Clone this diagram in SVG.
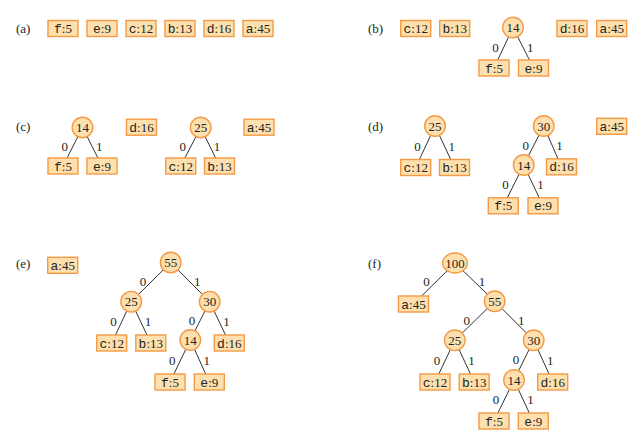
<svg xmlns="http://www.w3.org/2000/svg" width="640" height="443" viewBox="0 0 640 443">
<style>
.bx{fill:#FEE0AE;stroke:#F49A45;stroke-width:1.4}
.cn{fill:#FEE0AE;stroke:#F49A45;stroke-width:1.4}
.t{font-family:"Liberation Serif",serif;font-size:13px;fill:#231F20;text-anchor:middle}
.m{font-family:"Liberation Mono",monospace}
.pl{font-family:"Liberation Serif",serif;font-size:13px;fill:#231F20}
.e line{stroke:#333;stroke-width:1}
.el{font-family:"Liberation Serif",serif;font-size:13px;fill:#231F20;text-anchor:middle}
</style>
<rect width="640" height="443" fill="#fff"/>
<g id="panel-labels">
<text class="pl" x="16" y="33">(a)</text>
<text class="pl" x="368" y="33">(b)</text>
<text class="pl" x="16" y="131">(c)</text>
<text class="pl" x="368" y="131">(d)</text>
<text class="pl" x="16" y="268">(e)</text>
<text class="pl" x="368" y="268">(f)</text>
</g>
<g id="connectors" class="e">
<line x1="513" y1="27.5" x2="494" y2="68"/><line x1="513" y1="27.5" x2="533.5" y2="68"/>
<line x1="82.5" y1="127.5" x2="63" y2="166"/><line x1="82.5" y1="127.5" x2="102" y2="166"/>
<line x1="200.7" y1="127.5" x2="180.7" y2="166"/><line x1="200.7" y1="127.5" x2="219.5" y2="166"/>
<line x1="435" y1="126" x2="415.7" y2="167.5"/><line x1="435" y1="126" x2="454.5" y2="167.5"/>
<line x1="543.7" y1="126" x2="523.7" y2="165"/><line x1="543.7" y1="126" x2="561.5" y2="166.8"/>
<line x1="523.7" y1="165" x2="503.3" y2="205.8"/><line x1="523.7" y1="165" x2="543" y2="205.8"/>
<line x1="170.7" y1="262.5" x2="131.2" y2="301.7"/><line x1="170.7" y1="262.5" x2="209.7" y2="301.7"/>
<line x1="131.2" y1="301.7" x2="111.7" y2="343"/><line x1="131.2" y1="301.7" x2="150.8" y2="343"/>
<line x1="209.7" y1="301.7" x2="190.3" y2="340"/><line x1="209.7" y1="301.7" x2="229.3" y2="343"/>
<line x1="190.3" y1="340" x2="170" y2="382"/><line x1="190.3" y1="340" x2="209.3" y2="382"/>
<line x1="455" y1="263" x2="413.5" y2="304"/><line x1="455" y1="263" x2="494.7" y2="301.3"/>
<line x1="494.7" y1="301.3" x2="454.8" y2="340.3"/><line x1="494.7" y1="301.3" x2="533.7" y2="340.3"/>
<line x1="454.8" y1="340.3" x2="435" y2="382"/><line x1="454.8" y1="340.3" x2="474.2" y2="382"/>
<line x1="533.7" y1="340.3" x2="514" y2="380"/><line x1="533.7" y1="340.3" x2="552.7" y2="382"/>
<line x1="514" y1="380" x2="494" y2="421"/><line x1="514" y1="380" x2="533" y2="421"/>
<text class="el" x="495.5" y="51.5">0</text><text class="el" x="530.3" y="51.5">1</text>
<text class="el" x="64.8" y="150.5">0</text><text class="el" x="99.3" y="150.5">1</text>
<text class="el" x="182.7" y="150.5">0</text><text class="el" x="217.1" y="150.5">1</text>
<text class="el" x="417.4" y="150.5">0</text><text class="el" x="451.8" y="150.5">1</text>
<text class="el" x="525.7" y="149.5">0</text><text class="el" x="559.6" y="150">1</text>
<text class="el" x="505.5" y="189">0</text><text class="el" x="540.4" y="189">1</text>
<text class="el" x="143" y="285.5">0</text><text class="el" x="197.2" y="285.5">1</text>
<text class="el" x="113.5" y="325.5">0</text><text class="el" x="148" y="325.5">1</text>
<text class="el" x="192" y="324.5">0</text><text class="el" x="226.5" y="325.5">1</text>
<text class="el" x="172.2" y="364.5">0</text><text class="el" x="206.8" y="364.5">1</text>
<text class="el" x="426.5" y="285.5">0</text><text class="el" x="481.9" y="285.5">1</text>
<text class="el" x="466.8" y="324.5">0</text><text class="el" x="521.2" y="324.5">1</text>
<text class="el" x="436.9" y="364.5">0</text><text class="el" x="471.5" y="364.5">1</text>
<text class="el" x="515.9" y="363.5">0</text><text class="el" x="550.2" y="364.5">1</text>
<text class="el" x="496" y="404">0</text><text class="el" x="530.5" y="404">1</text>
</g>
<!-- (a) -->
<g id="a-f"><rect class="bx" x="48" y="20.5" width="30" height="16"/><text class="t" x="63" y="33"><tspan class="m">f</tspan>:5</text></g>
<g id="a-e"><rect class="bx" x="87" y="20.5" width="30" height="16"/><text class="t" x="102" y="33"><tspan class="m">e</tspan>:9</text></g>
<g id="a-c"><rect class="bx" x="126" y="20.5" width="30" height="16"/><text class="t" x="141" y="33"><tspan class="m">c</tspan>:12</text></g>
<g id="a-b"><rect class="bx" x="165" y="20.5" width="30" height="16"/><text class="t" x="180" y="33"><tspan class="m">b</tspan>:13</text></g>
<g id="a-d"><rect class="bx" x="204" y="20.5" width="30" height="16"/><text class="t" x="219" y="33"><tspan class="m">d</tspan>:16</text></g>
<g id="a-a"><rect class="bx" x="243" y="20.5" width="30" height="16"/><text class="t" x="258" y="33"><tspan class="m">a</tspan>:45</text></g>
<!-- (b) -->
<g id="b-c"><rect class="bx" x="400.7" y="20.5" width="30" height="16"/><text class="t" x="415.7" y="33"><tspan class="m">c</tspan>:12</text></g>
<g id="b-b"><rect class="bx" x="439.7" y="20.5" width="30" height="16"/><text class="t" x="454.7" y="33"><tspan class="m">b</tspan>:13</text></g>
<g id="b-14"><circle class="cn" cx="513" cy="27.5" r="10.3"/><text class="t" x="513" y="32">14</text></g>
<g id="b-f"><rect class="bx" x="479" y="60" width="30" height="16"/><text class="t" x="494" y="72.5"><tspan class="m">f</tspan>:5</text></g>
<g id="b-e"><rect class="bx" x="518.5" y="60" width="30" height="16"/><text class="t" x="533.5" y="72.5"><tspan class="m">e</tspan>:9</text></g>
<g id="b-d"><rect class="bx" x="557" y="20.5" width="30" height="16"/><text class="t" x="572" y="33"><tspan class="m">d</tspan>:16</text></g>
<g id="b-a"><rect class="bx" x="596.7" y="20.5" width="30" height="16"/><text class="t" x="611.7" y="33"><tspan class="m">a</tspan>:45</text></g>
<!-- (c) -->
<g id="c-14"><circle class="cn" cx="82.5" cy="127.5" r="10.3"/><text class="t" x="82.5" y="132">14</text></g>
<g id="c-f"><rect class="bx" x="48" y="158" width="30" height="16"/><text class="t" x="63" y="170.5"><tspan class="m">f</tspan>:5</text></g>
<g id="c-e"><rect class="bx" x="87" y="158" width="30" height="16"/><text class="t" x="102" y="170.5"><tspan class="m">e</tspan>:9</text></g>
<g id="c-d"><rect class="bx" x="126.5" y="119.2" width="30" height="16"/><text class="t" x="141.5" y="131.7"><tspan class="m">d</tspan>:16</text></g>
<g id="c-25"><circle class="cn" cx="200.7" cy="127.5" r="10.3"/><text class="t" x="200.7" y="132">25</text></g>
<g id="c-c"><rect class="bx" x="165.7" y="158" width="30" height="16"/><text class="t" x="180.7" y="170.5"><tspan class="m">c</tspan>:12</text></g>
<g id="c-b"><rect class="bx" x="204.5" y="158" width="30" height="16"/><text class="t" x="219.5" y="170.5"><tspan class="m">b</tspan>:13</text></g>
<g id="c-a"><rect class="bx" x="244" y="119.2" width="30" height="16"/><text class="t" x="259" y="131.7"><tspan class="m">a</tspan>:45</text></g>
<!-- (d) -->
<g id="d-25"><circle class="cn" cx="435" cy="126" r="10.3"/><text class="t" x="435" y="130.5">25</text></g>
<g id="d-c"><rect class="bx" x="400.7" y="159.5" width="30" height="16"/><text class="t" x="415.7" y="172"><tspan class="m">c</tspan>:12</text></g>
<g id="d-b"><rect class="bx" x="439.5" y="159.5" width="30" height="16"/><text class="t" x="454.5" y="172"><tspan class="m">b</tspan>:13</text></g>
<g id="d-30"><circle class="cn" cx="543.7" cy="126" r="10.3"/><text class="t" x="543.7" y="130.5">30</text></g>
<g id="d-14"><circle class="cn" cx="523.7" cy="165" r="10.3"/><text class="t" x="523.7" y="169.5">14</text></g>
<g id="d-d"><rect class="bx" x="546.5" y="158.8" width="30" height="16"/><text class="t" x="561.5" y="171.3"><tspan class="m">d</tspan>:16</text></g>
<g id="d-f"><rect class="bx" x="488.3" y="197.8" width="30" height="16"/><text class="t" x="503.3" y="210.3"><tspan class="m">f</tspan>:5</text></g>
<g id="d-e"><rect class="bx" x="528" y="197.8" width="30" height="16"/><text class="t" x="543" y="210.3"><tspan class="m">e</tspan>:9</text></g>
<g id="d-a"><rect class="bx" x="596.7" y="118.3" width="30" height="16"/><text class="t" x="611.7" y="130.8"><tspan class="m">a</tspan>:45</text></g>
<!-- (e) -->
<g id="e-a"><rect class="bx" x="47.7" y="257.3" width="30" height="16"/><text class="t" x="62.7" y="269.8"><tspan class="m">a</tspan>:45</text></g>
<g id="e-55"><circle class="cn" cx="170.7" cy="262.5" r="10.3"/><text class="t" x="170.7" y="267">55</text></g>
<g id="e-25"><circle class="cn" cx="131.2" cy="301.7" r="10.3"/><text class="t" x="131.2" y="306.2">25</text></g>
<g id="e-30"><circle class="cn" cx="209.7" cy="301.7" r="10.3"/><text class="t" x="209.7" y="306.2">30</text></g>
<g id="e-c"><rect class="bx" x="96.7" y="335" width="30" height="16"/><text class="t" x="111.7" y="347.5"><tspan class="m">c</tspan>:12</text></g>
<g id="e-b"><rect class="bx" x="135.8" y="335" width="30" height="16"/><text class="t" x="150.8" y="347.5"><tspan class="m">b</tspan>:13</text></g>
<g id="e-14"><circle class="cn" cx="190.3" cy="340" r="10.3"/><text class="t" x="190.3" y="344.5">14</text></g>
<g id="e-d"><rect class="bx" x="214.3" y="335" width="30" height="16"/><text class="t" x="229.3" y="347.5"><tspan class="m">d</tspan>:16</text></g>
<g id="e-f"><rect class="bx" x="155" y="374" width="30" height="16"/><text class="t" x="170" y="386.5"><tspan class="m">f</tspan>:5</text></g>
<g id="e-e"><rect class="bx" x="194.3" y="374" width="30" height="16"/><text class="t" x="209.3" y="386.5"><tspan class="m">e</tspan>:9</text></g>
<!-- (f) -->
<g id="f-100"><ellipse class="cn" cx="455" cy="263" rx="12.4" ry="10"/><text class="t" x="455" y="267.5">100</text></g>
<g id="f-a"><rect class="bx" x="398.5" y="296" width="30" height="16"/><text class="t" x="413.5" y="308.5"><tspan class="m">a</tspan>:45</text></g>
<g id="f-55"><circle class="cn" cx="494.7" cy="301.3" r="10.3"/><text class="t" x="494.7" y="305.8">55</text></g>
<g id="f-25"><circle class="cn" cx="454.8" cy="340.3" r="10.3"/><text class="t" x="454.8" y="344.8">25</text></g>
<g id="f-30"><circle class="cn" cx="533.7" cy="340.3" r="10.3"/><text class="t" x="533.7" y="344.8">30</text></g>
<g id="f-c"><rect class="bx" x="420" y="374" width="30" height="16"/><text class="t" x="435" y="386.5"><tspan class="m">c</tspan>:12</text></g>
<g id="f-b"><rect class="bx" x="459.2" y="374" width="30" height="16"/><text class="t" x="474.2" y="386.5"><tspan class="m">b</tspan>:13</text></g>
<g id="f-14"><circle class="cn" cx="514" cy="380" r="10.3"/><text class="t" x="514" y="384.5">14</text></g>
<g id="f-d"><rect class="bx" x="537.7" y="374" width="30" height="16"/><text class="t" x="552.7" y="386.5"><tspan class="m">d</tspan>:16</text></g>
<g id="f-f"><rect class="bx" x="479" y="413" width="30" height="16"/><text class="t" x="494" y="425.5"><tspan class="m">f</tspan>:5</text></g>
<g id="f-e"><rect class="bx" x="518.3" y="413" width="30" height="16"/><text class="t" x="533.3" y="425.5"><tspan class="m">e</tspan>:9</text></g>
</svg>
